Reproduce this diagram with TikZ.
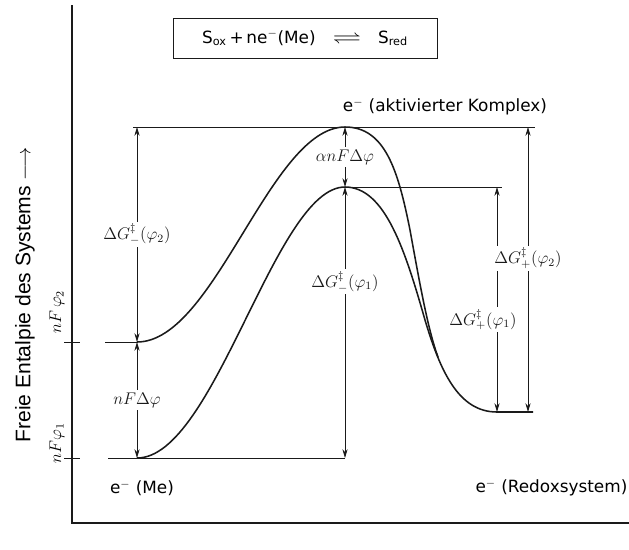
\documentclass[tikz,border=0pt]{standalone}
\usepackage{amsmath,amssymb}
\usepackage{fontspec}
\setmainfont{DejaVu Sans}
\newfontfamily\axisfont{Liberation Sans}
\usetikzlibrary{arrows.meta}

\definecolor{inkBlack}{HTML}{1A1A1A}

\tikzset{
  energyCurve/.style={inkBlack, line width=1.1pt},
  levelLine/.style={inkBlack, semithick},
  axisLine/.style={inkBlack, line width=1.8pt},
  dimArrow/.style={
    {Stealth[length=2.2mm,width=1.3mm]}-{Stealth[length=2.2mm,width=1.3mm]},
    inkBlack, semithick
  },
  dimLabel/.style={fill=white, inner sep=1.5pt, font=\large},
  stateLabel/.style={font=\large, inner sep=1pt},
  sideLabel/.style={rotate=90, font=\large, inner sep=1pt}
}

\begin{document}
\begin{tikzpicture}[x=0.025cm,y=-0.025cm]
  \useasboundingbox (0,0) rectangle (629,549);

  % axes
  \draw[axisLine] (72,5) -- (72,523) -- (629,523);
  \node[rotate=90, font=\axisfont\fontsize{15}{18}\selectfont] (yLabel)
    at (25,295) {Freie Entalpie des Systems $\longrightarrow$};

  % reaction
  \node[draw=inkBlack, semithick, minimum width=6.6cm, minimum height=1cm,
    font=\large] (reaction) at (305,38)
    {S\textsubscript{ox}\,+\,ne\textsuperscript{$-$}(Me)\quad
     \scalebox{1.7}[1.2]{$\rightleftharpoons$}\quad S\textsubscript{red}};

  % reference points
  \coordinate (lowStart) at (137,458);
  \coordinate (highStart) at (137,342);
  \coordinate (topLeft) at (137,127);
  \coordinate (peakHigh) at (345,127);
  \coordinate (peakLow) at (345,187);
  \coordinate (peakLowFoot) at (345,458);
  \coordinate (midRight) at (497,187);
  \coordinate (redoxIn) at (497,412);
  \coordinate (topRight) at (528,127);
  \coordinate (redoxOut) at (528,412);

  % levels
  \draw[levelLine] (133,127) -- (535,127);
  \draw[levelLine] (peakLow) -- (502,187);
  \draw[levelLine] (105,342) -- (highStart);
  \draw[levelLine] (108,458) -- (peakLowFoot);
  \draw[levelLine] (64,342) -- (80,342);
  \draw[levelLine] (64,458) -- (80,458);
  \node[sideLabel] (phiTwo) at (57,312) {$nF\,\varphi_2$};
  \node[sideLabel] (phiOne) at (57,443) {$nF\varphi_1$};

  % energy curves
  \draw[energyCurve] (lowStart) .. controls (215,458) and (275,187) .. (peakLow)
    .. controls (385,187) and (405,250) .. (425,320)
    .. controls (440,370) and (458,412) .. (redoxIn) -- (533,412);
  \draw[energyCurve] (highStart) .. controls (215,342) and (270,127) .. (peakHigh)
    .. controls (385,127) and (398,170) .. (410,230)
    .. controls (420,285) and (428,330) .. (438,357);

  % dimension arrows
  \draw[dimArrow] (topLeft) -- (highStart)
    node[dimLabel, midway] (dgMinusTwo) {$\Delta G^{\ddagger}_{-}(\varphi_2)$};
  \draw[dimArrow] (highStart) -- (lowStart)
    node[dimLabel, pos=0.5] (nfDelta) {$nF\Delta\varphi$};
  \draw[dimArrow] (peakHigh) -- (peakLow)
    node[dimLabel, midway] (alphaTerm) {$\alpha nF\Delta\varphi$};
  \draw[dimArrow] (peakLow) -- (peakLowFoot)
    node[dimLabel, pos=0.35] (dgMinusOne) {$\Delta G^{\ddagger}_{-}(\varphi_1)$};
  \draw[dimArrow] (midRight) -- (redoxIn)
    node[dimLabel, pos=0.59, xshift=-0.35cm] (dgPlusOne) {$\Delta G^{\ddagger}_{+}(\varphi_1)$};
  \draw[dimArrow] (topRight) -- (redoxOut)
    node[dimLabel, pos=0.46] (dgPlusTwo) {$\Delta G^{\ddagger}_{+}(\varphi_2)$};

  % states
  \node[stateLabel] (complex) at (445,107) {e$^-$ (aktivierter Komplex)};
  \node[stateLabel] (metal) at (142,488) {e$^-$ (Me)};
  \node[stateLabel, anchor=east] (redox) at (629,488) {e$^-$ (Redoxsystem)};
\end{tikzpicture}
\end{document}
